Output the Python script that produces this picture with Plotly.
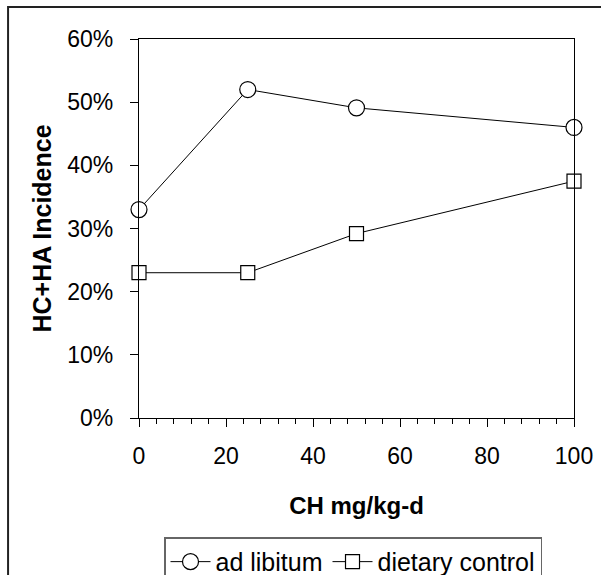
import plotly.graph_objects as go

# Dose (CH mg/kg-d) and HC+HA incidence (%)
doses = [0, 25, 50, 100]
ad_libitum = [33.0, 52.0, 49.1, 46.0]
dietary_control = [23.0, 23.0, 29.2, 37.5]
series_names = ["ad libitum", "dietary control"]

FONT = "Liberation Sans, Arial, sans-serif"

fig = go.Figure()
fig.add_trace(go.Scatter(
    x=doses, y=ad_libitum, name=series_names[0], mode="lines+markers",
    line=dict(color="black", width=1),
    marker=dict(symbol="circle", size=16, color="white",
                line=dict(color="black", width=1.2)),
    cliponaxis=False,
))
fig.add_trace(go.Scatter(
    x=doses, y=dietary_control, name=series_names[1], mode="lines+markers",
    line=dict(color="black", width=1),
    marker=dict(symbol="square", size=14, color="white",
                line=dict(color="black", width=1.2)),
    cliponaxis=False,
))

# outer chart frame
fig.add_shape(type="rect", xref="paper", yref="paper",
              x0=-0.301, x1=1.1, y0=-0.5, y1=1.0845,
              line=dict(color="#222", width=2), layer="below")

fig.update_layout(
    width=601, height=575,
    margin=dict(l=139, r=27, t=38.5, b=156.7, autoexpand=False),
    paper_bgcolor="white", plot_bgcolor="white",
    font=dict(family=FONT, color="black", size=23),
    showlegend=True,
    legend=dict(
        orientation="h", x=0.0575, y=-0.315, xanchor="left", yanchor="top",
        bordercolor="#666", borderwidth=1.5, bgcolor="white",
        font=dict(size=25, family=FONT), tracegroupgap=0, itemwidth=40,
    ),
    xaxis=dict(
        range=[0, 100], dtick=20, tick0=0,
        showgrid=False, zeroline=False,
        showline=True, linecolor="black", linewidth=1.2, mirror=True,
        ticks="outside", ticklen=8, tickwidth=1.2, tickcolor="black",
        ticklabelstandoff=9,
        minor=dict(dtick=4, ticks="outside", ticklen=5, tickwidth=1, tickcolor="black"),
        title=dict(text="<b>CH mg/kg-d</b>", font=dict(size=24), standoff=29),
    ),
    yaxis=dict(
        range=[0, 60], dtick=10, tick0=0, ticksuffix="%",
        showgrid=False, zeroline=False,
        showline=True, linecolor="black", linewidth=1.2, mirror=True,
        ticks="outside", ticklen=8, tickwidth=1.2, tickcolor="black",
        ticklabelstandoff=12,
        title=dict(text="<b>HC+HA Incidence</b>", font=dict(size=25), standoff=8),
    ),
)

fig.write_html("out.html")
